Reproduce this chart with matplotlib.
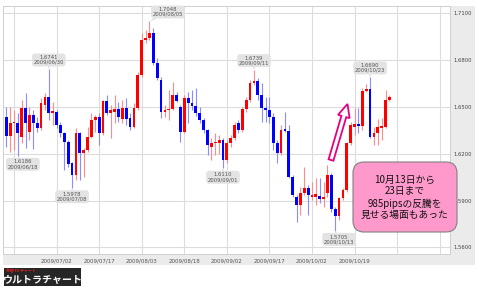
import matplotlib
matplotlib.use('Agg')
import matplotlib.pyplot as plt
import matplotlib.patches as mpatches

W, H = 478, 288

# ---- data (GBP/USD daily, 2009/06/15 - 2009/10/30) ----
opens = [1.6437, 1.6313, 1.6399, 1.6399, 1.6309, 1.6491, 1.6341, 1.6448, 1.6399, 1.6362,
         1.6512, 1.6561, 1.6459, 1.6469, 1.6384, 1.6331, 1.6277, 1.6138, 1.6064, 1.6331,
         1.6207, 1.6224, 1.6309, 1.6416, 1.6433, 1.6331, 1.6540, 1.6459, 1.6470, 1.6484,
         1.6420, 1.6490, 1.6427, 1.6373, 1.6491, 1.6705, 1.6929, 1.6940, 1.6976, 1.6779,
         1.6673, 1.6465, 1.6478, 1.6484, 1.6576, 1.6501, 1.6341, 1.6555, 1.6523, 1.6506,
         1.6460, 1.6416, 1.6352, 1.6241, 1.6266, 1.6266, 1.6288, 1.6160, 1.6266, 1.6298,
         1.6395, 1.6352, 1.6484, 1.6544, 1.6651, 1.6668, 1.6576, 1.6491, 1.6480, 1.6437,
         1.6266, 1.6202, 1.6356, 1.6348, 1.6053, 1.5925, 1.5871, 1.5950, 1.5978, 1.5925,
         1.5925, 1.5929, 1.5908, 1.5946, 1.6063, 1.5843, 1.5800, 1.5914, 1.5967, 1.6266,
         1.6373, 1.6390, 1.6375, 1.6604, 1.6613, 1.6309, 1.6331, 1.6365, 1.6373, 1.6544]
highs = [1.6501, 1.6501, 1.6480, 1.6459, 1.6544, 1.6591, 1.6501, 1.6480, 1.6437, 1.6555,
         1.6587, 1.6741, 1.6533, 1.6480, 1.6405, 1.6341, 1.6288, 1.6150, 1.6363, 1.6341,
         1.6234, 1.6373, 1.6459, 1.6448, 1.6459, 1.6544, 1.6576, 1.6512, 1.6576, 1.6534,
         1.6544, 1.6555, 1.6459, 1.6523, 1.6726, 1.6972, 1.6993, 1.7048, 1.7004, 1.6811,
         1.6694, 1.6512, 1.6608, 1.6662, 1.6598, 1.6512, 1.6576, 1.6598, 1.6608, 1.6619,
         1.6501, 1.6430, 1.6360, 1.6300, 1.6330, 1.6320, 1.6300, 1.6290, 1.6320, 1.6405,
         1.6416, 1.6501, 1.6566, 1.6672, 1.6739, 1.6683, 1.6651, 1.6566, 1.6566, 1.6459,
         1.6288, 1.6384, 1.6469, 1.6384, 1.6064, 1.5935, 1.5989, 1.6117, 1.6000, 1.6021,
         1.6042, 1.6042, 1.6021, 1.6128, 1.6074, 1.5860, 1.5924, 1.5978, 1.6277, 1.6405,
         1.6491, 1.6493, 1.6620, 1.6650, 1.6690, 1.6373, 1.6420, 1.6430, 1.6608, 1.6576]
lows = [1.6241, 1.6213, 1.6224, 1.6186, 1.6266, 1.6234, 1.6288, 1.6228, 1.6341, 1.6352,
        1.6480, 1.6416, 1.6384, 1.6362, 1.6309, 1.6095, 1.6115, 1.5978, 1.6032, 1.6032,
        1.6053, 1.6213, 1.6298, 1.6341, 1.6256, 1.6320, 1.6448, 1.6298, 1.6395, 1.6405,
        1.6395, 1.6384, 1.6352, 1.6363, 1.6480, 1.6694, 1.6908, 1.6929, 1.6769, 1.6673,
        1.6427, 1.6438, 1.6416, 1.6480, 1.6534, 1.6277, 1.6331, 1.6395, 1.6480, 1.6440,
        1.6400, 1.6330, 1.6190, 1.6160, 1.6190, 1.6200, 1.6110, 1.6138, 1.6241, 1.6288,
        1.6331, 1.6341, 1.6469, 1.6533, 1.6640, 1.6544, 1.6405, 1.6405, 1.6395, 1.6224,
        1.6138, 1.6192, 1.6341, 1.6042, 1.5925, 1.5764, 1.5807, 1.5935, 1.5807, 1.5903,
        1.5870, 1.5882, 1.5860, 1.5925, 1.5828, 1.5705, 1.5775, 1.5903, 1.5957, 1.6256,
        1.6320, 1.6330, 1.6355, 1.6595, 1.6300, 1.6256, 1.6256, 1.6290, 1.6366, 1.6540]
closes = [1.6313, 1.6399, 1.6405, 1.6331, 1.6491, 1.6399, 1.6448, 1.6399, 1.6362, 1.6523,
          1.6561, 1.6459, 1.6474, 1.6384, 1.6331, 1.6277, 1.6135, 1.6064, 1.6331, 1.6207,
          1.6224, 1.6309, 1.6416, 1.6433, 1.6331, 1.6540, 1.6459, 1.6480, 1.6484, 1.6433,
          1.6490, 1.6420, 1.6373, 1.6490, 1.6705, 1.6929, 1.6940, 1.6976, 1.6779, 1.6683,
          1.6469, 1.6480, 1.6484, 1.6576, 1.6540, 1.6341, 1.6555, 1.6523, 1.6506, 1.6460,
          1.6416, 1.6352, 1.6256, 1.6266, 1.6270, 1.6288, 1.6160, 1.6266, 1.6298, 1.6384,
          1.6352, 1.6484, 1.6544, 1.6651, 1.6668, 1.6576, 1.6491, 1.6480, 1.6437, 1.6266,
          1.6202, 1.6352, 1.6348, 1.6053, 1.5935, 1.5871, 1.5950, 1.5978, 1.5935, 1.5935,
          1.5940, 1.5908, 1.5925, 1.6063, 1.5843, 1.5800, 1.5914, 1.5967, 1.6266, 1.6384,
          1.6390, 1.6375, 1.6604, 1.6613, 1.6309, 1.6335, 1.6373, 1.6378, 1.6544, 1.6562]

grid_idx = [2, 13, 24, 35, 46, 57, 68, 79, 90, 101, 112]
tick_labels = ['', '2009/07/02', '2009/07/17', '2009/08/03', '2009/08/18', '2009/09/02',
               '2009/09/17', '2009/10/02', '2009/10/19', '', '']
y_ticks = [1.56, 1.59, 1.62, 1.65, 1.68, 1.71]

ext_idx = [11, 37, 64, 94, 3, 17, 56, 85]
ext_price = [1.6741, 1.7048, 1.6739, 1.6690, 1.6186, 1.5978, 1.6110, 1.5705]
ext_date = ['2009/06/30', '2009/08/05', '2009/09/11', '2009/10/23',
            '2009/06/18', '2009/07/08', '2009/09/01', '2009/10/13']
ext_offset_px = [(0, 9.3), (18.5, 9.4), (0, 9.0), (0, 9.3),
                 (5, -8.4), (0, -8.4), (0, -9.5), (3.8, -8.5)]

callout_text = "10月13日から\n23日まで\n985pipsの反騰を\n見せる場面もあった"
logo_text = "ウルトラチャート"
logo_sub = "為替 FX チャート"

CJK = ['Noto Sans CJK JP', 'DejaVu Sans']

fig = plt.figure(figsize=(W / 100, H / 100), dpi=100)
fig.patch.set_facecolor('white')

# background panels (pixel coordinates)
bg = fig.add_axes([0, 0, 1, 1], zorder=0)
bg.set_xlim(0, W); bg.set_ylim(H, 0); bg.axis('off')
bg.add_patch(mpatches.Rectangle((450, 6), 25, 259, fc='#ebebeb', ec='none'))
bg.add_patch(mpatches.Rectangle((3, 255), 472, 10, fc='#ebebeb', ec='none'))

# main chart
ax = fig.add_axes([3 / W, 1 - 254 / H, 447 / W, 248 / H], zorder=1)
ax.set_xlim(-0.842, 114.66)
ax.set_ylim(1.55571, 1.71468)
ax.set_axisbelow(True)
ax.grid(True, color='#dcdcdc', lw=0.8)
for s in ax.spines.values():
    s.set_color('#cfcfcf'); s.set_linewidth(0.7)

n = len(opens)
xs = list(range(n))
up = [c >= o for o, c in zip(opens, closes)]
wick_cols = ['#ff8c8c' if u else '#8c8cff' for u in up]
body_cols = ['#ff0000' if u else '#0000ff' for u in up]
ax.vlines(xs, lows, highs, colors=wick_cols, lw=0.8, zorder=2)
bottoms = [min(o, c) for o, c in zip(opens, closes)]
heights = [max(abs(c - o), 0.0007) for o, c in zip(opens, closes)]
ax.bar(xs, heights, bottom=bottoms, width=0.72, color=body_cols, lw=0, zorder=3)

ax.yaxis.tick_right()
ax.set_yticks(y_ticks)
ax.set_yticklabels([f'{v:.4f}' for v in y_ticks])
ax.tick_params(axis='y', length=0, pad=2.2, labelsize=3.8, labelcolor='#444444')
ax.set_xticks(grid_idx)
ax.set_xticklabels(tick_labels)
ax.tick_params(axis='x', length=0, pad=3.2, labelsize=4.0, labelcolor='#555555')

for i, p, d, (dx, dy) in zip(ext_idx, ext_price, ext_date, ext_offset_px):
    ax.annotate(f'{p:.4f}\n{d}', xy=(i, p), xytext=(dx * 0.72, dy * 0.72),
                textcoords='offset points', ha='center', va='center',
                fontsize=3.8, color='#555555', linespacing=0.95,
                bbox=dict(boxstyle='round,pad=0.3,rounding_size=0.6', fc='#e3e3e3', ec='none'),
                arrowprops=dict(arrowstyle='wedge,tail_width=0.35', fc='#d8d8d8', ec='none',
                                shrinkA=0, shrinkB=0),
                zorder=5, annotation_clip=False)

# foreground overlay (pixel coordinates)
fg = fig.add_axes([0, 0, 1, 1], zorder=3)
fg.set_xlim(0, W); fg.set_ylim(H, 0); fg.axis('off')
fg.patch.set_alpha(0)

arrow = mpatches.FancyArrow(331, 160, 16.5, -56, width=5, head_width=12, head_length=13,
                            length_includes_head=True, fc='white', ec='#e5007f', lw=1.3)
fg.add_patch(arrow)

box = mpatches.FancyBboxPatch((353, 162), 104, 70,
                              boxstyle='round,pad=0,rounding_size=11',
                              fc='#ff99cc', ec='#808080', lw=0.8)
fg.add_patch(box)
fg.text(405, 197.5, callout_text, ha='center', va='center', fontsize=7,
        family=CJK, color='#111111', linespacing=1.2)

fg.add_patch(mpatches.Rectangle((4, 268), 77, 18, fc='#262626', ec='none'))
fg.text(6, 271, logo_sub, ha='left', va='center', fontsize=2.8, family=CJK,
        color='#e02020', fontweight='bold')
fg.text(42.5, 279.5, logo_text, ha='center', va='center', fontsize=7.2, family=CJK,
        color='white', fontweight='bold')

fig.savefig('out.png', dpi=100, facecolor='white')
